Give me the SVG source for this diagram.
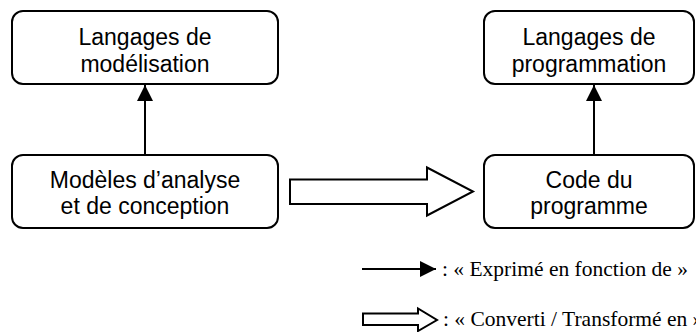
<svg xmlns="http://www.w3.org/2000/svg" width="696" height="332" viewBox="0 0 696 332">
<style>
.box{fill:#fff;stroke:#000;stroke-width:2}
.lbl{font-family:"Liberation Sans",Arial,sans-serif;font-size:23px;fill:#000;text-anchor:middle}
.leg{font-family:"Liberation Serif","Times New Roman",serif;font-size:21.5px;fill:#000}
.ln{stroke:#000;stroke-width:2;fill:none}
.big{fill:#fff;stroke:#000;stroke-width:2;stroke-linejoin:miter}
</style>
<defs>
<marker id="ah" markerUnits="userSpaceOnUse" markerWidth="16" markerHeight="16" viewBox="0 0 16 16" refX="16" refY="8" orient="auto">
<path d="M0,0 L16,8 L0,16 Z" fill="#000"/>
</marker>
</defs>
<g id="n1"><rect class="box" x="12" y="11" width="266" height="73" rx="11"/><text class="lbl" x="145" y="45">Langages de</text><text class="lbl" x="145" y="72">modélisation</text></g>
<g id="n2"><rect class="box" x="12" y="155" width="266" height="73" rx="11"/><text class="lbl" x="145" y="188">Modèles d’analyse</text><text class="lbl" x="145" y="214">et de conception</text></g>
<g id="n3"><rect class="box" x="484" y="11" width="210" height="73" rx="11"/><text class="lbl" x="589" y="45">Langages de</text><text class="lbl" x="589" y="72">programmation</text></g>
<g id="n4"><rect class="box" x="484" y="155" width="210" height="73" rx="11"/><text class="lbl" x="589" y="188">Code du</text><text class="lbl" x="589" y="214">programme</text></g>
<g id="connectors">
<line class="ln" x1="145" y1="155" x2="145" y2="85" marker-end="url(#ah)"/>
<line class="ln" x1="594" y1="155" x2="594" y2="85" marker-end="url(#ah)"/>
<path class="big" d="M290,179.5 L427,179.5 L427,167.5 L473,191.5 L427,215.5 L427,204 L290,204 Z"/>
</g>
<g id="legend">
<line class="ln" x1="362" y1="269" x2="436" y2="269" marker-end="url(#ah)"/>
<text class="leg" x="442" y="275.5">: « Exprimé en fonction de »</text>
<path class="big" d="M363,313.5 L418,313.5 L418,308.5 L437,320 L418,331 L418,325 L363,325 Z"/>
<text class="leg" x="443" y="325.5">: « Converti / Transformé en »</text>
</g>
</svg>
